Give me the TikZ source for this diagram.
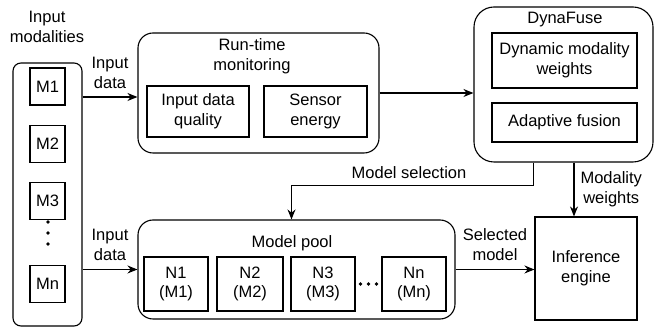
\documentclass[tikz,border=0pt]{standalone}
\usepackage{fontspec}
\setmainfont{Liberation Sans}
\usetikzlibrary{arrows.meta}

\begin{document}
\begin{tikzpicture}[x=1pt, y=-1pt, line width=1.1pt,
    font=\fontsize{16.5}{19.8}\selectfont,
    >={Stealth[length=10pt, width=8pt]},
    group/.style={draw, rounded corners=#1, inner sep=0pt},
    blk/.style={draw, align=center, inner sep=0pt},
    lbl/.style={align=center, inner sep=0pt}]
      \useasboundingbox (0, 0) rectangle (654, 328);

      \node[group=8pt, minimum width=69pt, minimum height=263pt] (mods) at (47.5, 194.5) {};
      \node[lbl] (modsT) at (47, 27) {Input\\modalities};
      \node[blk, minimum width=35pt, minimum height=37pt] (M1) at (47.5, 86.5) {M1};
      \node[blk, minimum width=35pt, minimum height=37pt] (M2) at (47.5, 144) {M2};
      \node[blk, minimum width=35pt, minimum height=37pt] (M3) at (47.5, 201) {M3};
      \node[blk, minimum width=35pt, minimum height=37pt] (Mn) at (47.5, 284) {Mn};
      \foreach \y in {222, 233, 244}
        \fill (48, \y) circle (1.9pt);

      \node[group=15pt, minimum width=241pt, minimum height=120pt] (rtm) at (258.5, 93) {};
      \node[lbl] (rtmT) at (252, 56) {Run-time\\monitoring};
      \node[blk, minimum width=102pt, minimum height=51pt] (IDQ) at (198, 111.5) {Input data\\quality};
      \node[blk, minimum width=103pt, minimum height=51pt] (SE) at (315.5, 111.5) {Sensor\\energy};

      \node[group=20pt, minimum width=179pt, minimum height=155pt] (dyn) at (563.5, 84.5) {};
      \node[lbl] (dynT) at (565, 20) {DynaFuse};
      \node[blk, minimum width=145pt, minimum height=55pt] (DMW) at (564.5, 60.5) {Dynamic modality\\weights};
      \node[blk, minimum width=145pt, minimum height=39pt] (AF) at (564.5, 122.5) {Adaptive fusion};

      \node[group=15pt, minimum width=317pt, minimum height=99pt] (pool) at (296.5, 269.5) {};
      \node[lbl] (poolT) at (292, 243) {Model pool};
      \node[blk, minimum width=64pt, minimum height=54pt] (N1) at (176, 284) {N1\\(M1)};
      \node[blk, minimum width=66pt, minimum height=54pt] (N2) at (250, 284) {N2\\(M2)};
      \node[blk, minimum width=64pt, minimum height=54pt] (N3) at (323, 284) {N3\\(M3)};
      \node[blk, minimum width=64pt, minimum height=54pt] (Nn) at (414, 284) {Nn\\(Mn)};
      \foreach \x in {360.5, 368.5, 376.5}
        \fill (\x, 284) circle (1.9pt);

      \node[blk, minimum width=102pt, minimum height=103pt] (inf) at (586, 268.5) {Inference\\engine};

      \draw[->] ([yshift=-4pt]rtm.west -| mods.east) to node[lbl, midway, above=8pt] (in1) {Input\\data} ([yshift=-4pt]rtm.west);
      \draw[->] (pool.west -| mods.east) to node[lbl, midway, above=8pt] (in2) {Input\\data} (pool.west);
      \draw[->] (rtm.east) to (rtm.east -| dyn.west);
      \draw[->] ([xshift=-30pt]dyn.south) -- ++(0, 23) -| ([xshift=-5pt]pool.north);
      \node[lbl] (selT) at (409, 173) {Model selection};
      \draw[->] ([xshift=-12pt]inf.north |- dyn.south) to node[lbl, midway, right=6pt] (mwT) {Modality\\weights} ([xshift=-12pt]inf.north);
      \draw[->] (pool.east) to node[lbl, midway, above=8pt] (smT) {Selected\\model} (pool.east -| inf.west);
    \end{tikzpicture}
\end{document}
